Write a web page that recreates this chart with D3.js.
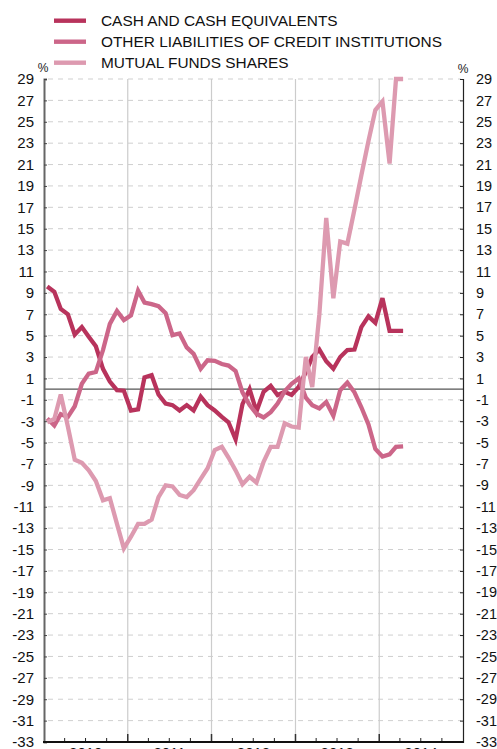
<!DOCTYPE html>
<html>
<head>
<meta charset="utf-8">
<script src="https://cdn.jsdelivr.net/npm/d3@7"></script>
<style>
  html, body { margin: 0; padding: 0; background: #fff; }
  svg { display: block; font-family: "Liberation Sans", Arial, Helvetica, sans-serif; }
</style>
</head>
<body>
<div id="chart"></div>
<script>
// Monthly year-on-year growth rates, Jan 2010 – Apr 2014 (%)
const seriesNames = [
  "CASH AND CASH EQUIVALENTS",
  "OTHER LIABILITIES OF CREDIT INSTITUTIONS",
  "MUTUAL FUNDS SHARES"
];
const seriesColors = ["#b8335c", "#cc6689", "#dd9ab0"];

const cash = [
  9.6, 9.1, 7.5, 7.0, 5.1, 5.8, 4.9, 4.0, 1.9, 0.7, -0.1, -0.15,
  -2.0, -1.9, 1.1, 1.3, -0.5, -1.35, -1.5, -2.0, -1.5, -2.0, -0.7, -1.5,
  -2.0, -2.6, -3.1, -4.7, -1.4, 0.0, -2.1, -0.25, 0.3, -0.55, -0.25, -0.55,
  0.2, 1.6, 3.0, 3.7, 2.6, 1.9, 3.0, 3.65, 3.7, 5.8, 6.8, 6.2,
  8.5, 5.45, 5.45, 5.45
];
const otherLiabilities = [
  -2.75, -3.4, -2.35, -2.6, -1.6, 0.5, 1.45, 1.6, 3.65, 6.1, 7.3, 6.45,
  6.9, 9.2, 8.1, 7.95, 7.75, 7.1, 5.05, 5.2, 3.9, 3.3, 1.9, 2.7,
  2.65, 2.35, 2.2, 1.7, -0.3, -1.5, -2.3, -2.65, -2.15, -1.35, -0.2, 0.5,
  1.0, -0.8, -1.5, -1.8, -1.2, -2.5, -0.1, 0.6, -0.3, -1.7, -3.3, -5.6,
  -6.3, -6.1, -5.4, -5.35
];
const mutualFunds = [
  -3.1, -2.8, -0.5, -3.5, -6.6, -6.9, -7.6, -8.6, -10.4, -10.2, -12.6, -14.9,
  -13.8, -12.6, -12.6, -12.2, -10.1, -9.0, -9.1, -9.9, -10.1, -9.45, -8.4, -7.4,
  -5.7, -5.4, -6.4, -7.6, -8.9, -8.2, -8.75, -6.8, -5.4, -5.4, -3.2, -3.5,
  -3.6, 3.0, 0.2, 7.0, 16.0, 8.5, 13.8, 13.6, 16.8, 20.0, 23.2, 26.1,
  26.9, 21.1, 29.0, 29.0
];
const yearLabels = ["2010", "2011", "2012", "2013", "2014"];
const yTicks = d3.range(-33, 30, 2);

const W = 497, H = 749;
const plot = { left: 44, right: 463, top: 79, bottom: 742 };

const months = d3.range(cash.length).map(i => new Date(2010, i, 15));
const x = d3.scaleTime()
  .domain([new Date(2010, 0, 1), new Date(2015, 0, 1)])
  .range([plot.left, plot.right]);
const y = d3.scaleLinear().domain([-33, 29]).range([plot.bottom, plot.top]);

// plain hyphen for negative numbers
const fmt = d => String(d);

const svg = d3.select("#chart").append("svg")
  .attr("width", W).attr("height", H);

// dashed horizontal grid
svg.append("g").selectAll("line").data(yTicks.slice(1)).join("line")
  .attr("x1", plot.left + 4).attr("x2", plot.right - 2)
  .attr("y1", d => y(d)).attr("y2", d => y(d))
  .attr("stroke", "#cfcfcf").attr("stroke-width", 1)
  .attr("stroke-dasharray", "5,5");

// year separators
const yearStarts = d3.range(2011, 2015).map(yr => new Date(yr, 0, 1));
svg.append("g").selectAll("line").data(yearStarts).join("line")
  .attr("x1", d => x(d)).attr("x2", d => x(d))
  .attr("y1", plot.top).attr("y2", plot.bottom)
  .attr("stroke", "#cccccc").attr("stroke-width", 1.2);

// zero line
svg.append("line")
  .attr("x1", plot.left).attr("x2", plot.right)
  .attr("y1", y(0)).attr("y2", y(0))
  .attr("stroke", "#555").attr("stroke-width", 1.2);

// left axis
const leftAxis = d3.axisLeft(y).tickValues(yTicks).tickSize(-3).tickPadding(10)
  .tickFormat(fmt);
const gl = svg.append("g").attr("transform", `translate(${plot.left},0)`).call(leftAxis);
gl.select(".domain").attr("stroke", "#666").attr("stroke-width", 2);
gl.selectAll(".tick line").attr("stroke", "#444");
gl.selectAll(".tick text").attr("font-size", 15).attr("fill", "#111")
  .attr("font-family", "Liberation Sans, Arial, sans-serif");

// right axis
const rightAxis = d3.axisRight(y).tickValues(yTicks).tickSize(-3).tickPadding(13)
  .tickFormat(fmt);
const gr = svg.append("g").attr("transform", `translate(${plot.right},0)`).call(rightAxis);
gr.select(".domain").attr("stroke", "#222").attr("stroke-width", 1.2);
gr.selectAll(".tick line").attr("stroke", "#222");
gr.selectAll(".tick text").attr("font-size", 14.5).attr("fill", "#111")
  .attr("font-family", "Liberation Sans, Arial, sans-serif");

// "%" unit labels
svg.append("text").attr("x", plot.left - 1).attr("y", 72).attr("text-anchor", "middle")
  .attr("font-size", 12).attr("fill", "#222").text("%");
svg.append("text").attr("x", plot.right).attr("y", 73).attr("text-anchor", "middle")
  .attr("font-size", 12).attr("fill", "#222").text("%");

// series lines
const line = d3.line().x((d, i) => x(months[i])).y(d => y(d));
[cash, otherLiabilities, mutualFunds].forEach((s, k) => {
  svg.append("path").datum(s)
    .attr("fill", "none").attr("stroke", seriesColors[k])
    .attr("stroke-width", 4.3).attr("stroke-linejoin", "miter")
    .attr("d", line);
});

// bottom axis with quarterly ticks
const quarters = d3.timeMonth.every(3).range(new Date(2010, 0, 1), new Date(2015, 0, 1))
  .filter(d => d.getMonth() !== 0);
svg.append("g").selectAll("line").data(quarters).join("line")
  .attr("x1", d => x(d)).attr("x2", d => x(d))
  .attr("y1", plot.bottom).attr("y2", plot.bottom - 4)
  .attr("stroke", "#222").attr("stroke-width", 1);
svg.append("g").selectAll("line").data(yearStarts).join("line")
  .attr("x1", d => x(d)).attr("x2", d => x(d))
  .attr("y1", plot.bottom).attr("y2", plot.bottom - 8)
  .attr("stroke", "#333").attr("stroke-width", 1.5);
svg.append("line")
  .attr("x1", plot.left - 1).attr("x2", plot.right + 1)
  .attr("y1", plot.bottom).attr("y2", plot.bottom)
  .attr("stroke", "#111").attr("stroke-width", 2);

svg.append("g").selectAll("text").data(yearLabels).join("text")
  .attr("x", d => x(new Date(+d, 6, 2)))
  .attr("y", 758)
  .attr("text-anchor", "middle").attr("font-size", 15).attr("fill", "#111")
  .text(d => d);

// legend
const lg = svg.append("g");
seriesNames.forEach((name, k) => {
  const cy = 20.7 + k * 21;
  lg.append("rect").attr("x", 54).attr("y", cy - 2.2).attr("width", 32).attr("height", 4.4)
    .attr("fill", seriesColors[k]);
  lg.append("text").attr("x", 101).attr("y", cy + 5.6)
    .attr("font-size", 15.4).attr("fill", "#111").text(name);
});
</script>
</body>
</html>
